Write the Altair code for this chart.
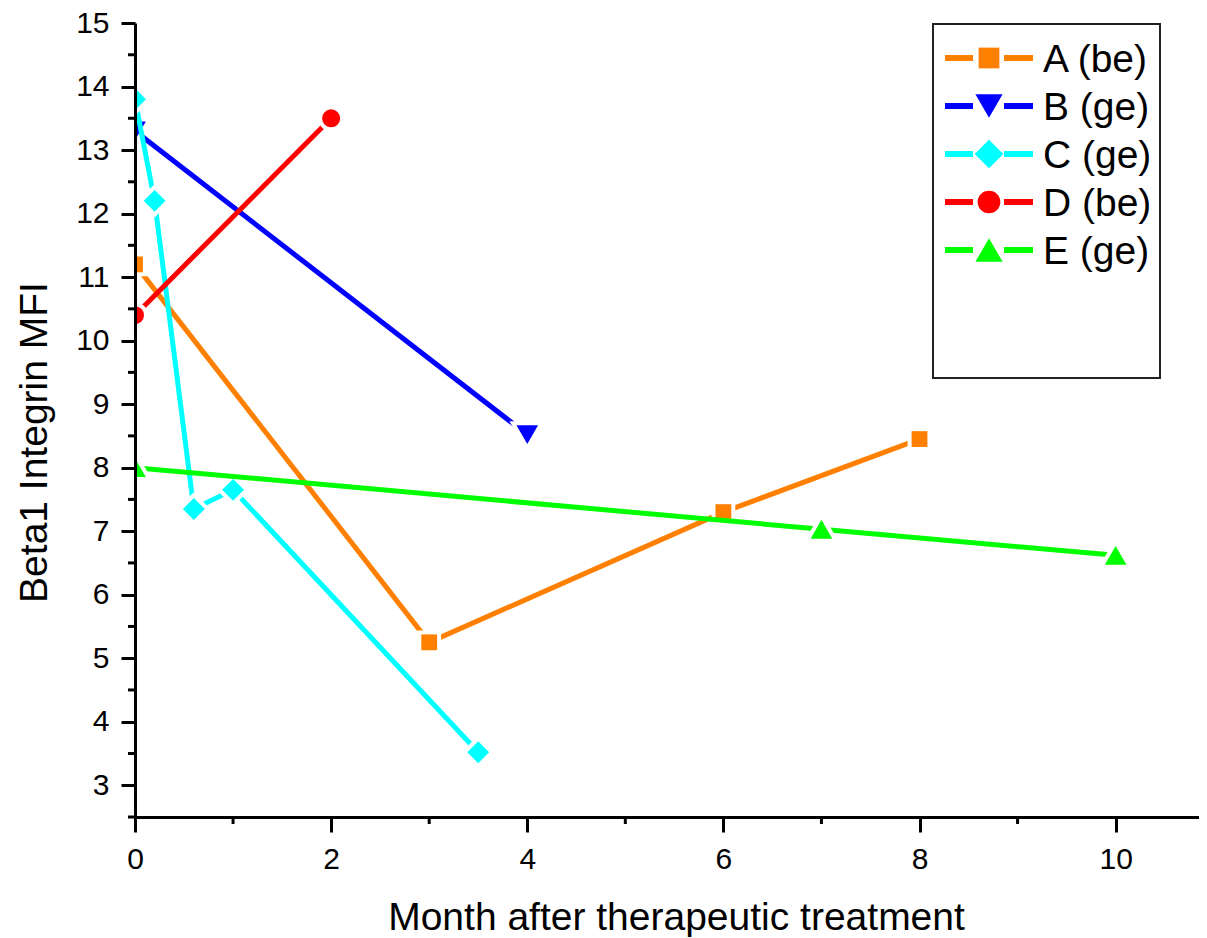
import altair as alt
import pandas as pd

FONT = "Liberation Sans"

# ---- data ----
series = ["A (be)", "B (ge)", "C (ge)", "D (be)", "E (ge)"]
x_A = [0, 3, 6, 8]
y_A = [11.2, 5.25, 7.3, 8.45]
x_B = [0, 4]
y_B = [13.3, 8.52]
x_C = [0, 0.2, 0.6, 1.0, 3.5]
y_C = [13.8, 12.2, 7.35, 7.65, 3.52]
x_D = [0, 2]
y_D = [10.4, 13.5]
x_E = [0, 7, 10]
y_E = [8.0, 7.03, 6.62]

x_major_ticks = [0, 2, 4, 6, 8, 10]
x_minor_ticks = [1, 3, 5, 7, 9]
y_major_ticks = [3, 4, 5, 6, 7, 8, 9, 10, 11, 12, 13, 14, 15]
y_minor_ticks = [2.5, 3.5, 4.5, 5.5, 6.5, 7.5, 8.5, 9.5, 10.5, 11.5, 12.5, 13.5, 14.5]

# ---- styles ----
colors = ["#FF8000", "#0000FF", "#00FFFF", "#FF0000", "#00FF00"]
shapes = ["square", "triangle-down", "diamond", "circle", "triangle-up"]
plot_sizes = [250, 470, 480, 324, 470]
legend_sizes = [430, 740, 820, 515, 740]

xs = [x_A, x_B, x_C, x_D, x_E]
ys = [y_A, y_B, y_C, y_D, y_E]
rows = []
for s, xv, yv in zip(series, xs, ys):
    for a, b in zip(xv, yv):
        rows.append({"series": s, "x": a, "y": b})
df = pd.DataFrame(rows)

W, H = 1064, 794
xscale = alt.Scale(domain=[0, 10.85], nice=False, zero=False)
yscale = alt.Scale(domain=[2.5, 15], nice=False, zero=False)
cscale = alt.Scale(domain=series, range=colors)
shscale = alt.Scale(domain=series, range=shapes)

x_axis = alt.Axis(
    values=x_major_ticks, tickSize=15, tickWidth=3, tickColor="black",
    domainWidth=3, domainColor="black", grid=False, zindex=1,
    labelFont=FONT, labelFontSize=30, labelColor="black", labelPadding=12,
    labelFlush=False,
    title="Month after therapeutic treatment", titleFont=FONT, titleFontSize=39,
    titleFontWeight="normal", titleColor="black", titleX=541, titleY=112,
    titleAlign="center", titleBaseline="alphabetic",
)
y_axis = alt.Axis(
    values=y_major_ticks, tickSize=14, tickWidth=3, tickColor="black",
    domainWidth=3, domainColor="black", grid=False, zindex=1,
    labelFont=FONT, labelFontSize=30, labelColor="black", labelPadding=12,
    labelFlush=False,
    title="Beta1 Integrin MFI", titleFont=FONT, titleFontSize=39,
    titleFontWeight="normal", titleColor="black", titleAngle=270,
    titleX=-89, titleY=419, titleAlign="center", titleBaseline="alphabetic",
)

X = alt.X("x:Q", scale=xscale, axis=x_axis)
Y = alt.Y("y:Q", scale=yscale, axis=y_axis)
C = alt.Color("series:N", scale=cscale, legend=None)
S = alt.Shape("series:N", scale=shscale, legend=None)

base = alt.Chart(df)
layers = []
for i, s in enumerate(series):
    f = alt.datum.series == s
    line = base.transform_filter(f).mark_line(strokeWidth=5, clip=True).encode(
        x=X, y=Y, color=C, order="x:Q",
    )
    halo = base.transform_filter(f).mark_point(
        filled=True, fill="white", stroke="white", strokeWidth=8, opacity=1,
        size=plot_sizes[i], clip=True
    ).encode(x=X, y=Y, shape=S)
    pts = base.transform_filter(f).mark_point(
        filled=True, opacity=1, strokeWidth=0, size=plot_sizes[i], clip=True
    ).encode(x=X, y=Y, color=C, shape=S)
    layers += [line, halo, pts]

# minor ticks
ymin_df = pd.DataFrame({"y": y_minor_ticks})
xmin_df = pd.DataFrame({"x": x_minor_ticks})
ymin = alt.Chart(ymin_df).mark_rule(strokeWidth=3, color="black", clip=False).encode(
    y=Y, x=alt.value(-7), x2=alt.value(0)
)
xmin = alt.Chart(xmin_df).mark_rule(strokeWidth=3, color="black", clip=False).encode(
    x=X, y=alt.value(H), y2=alt.value(H + 7)
)
layers += [ymin, xmin]

# legend
leg_df = pd.DataFrame({"series": series, "i": list(range(len(series)))})
leg = alt.Chart(leg_df).transform_calculate(ly="35 + 48 * datum.i")
LY = alt.Y("ly:Q", scale=None, axis=None)
box = alt.Chart(pd.DataFrame({"a": [0]})).mark_rect(
    fill=None, stroke="#222222", strokeWidth=2
).encode(x=alt.value(798), x2=alt.value(1025), y=alt.value(1), y2=alt.value(355))
seg1 = leg.mark_rule(strokeWidth=6).encode(
    x=alt.value(810), x2=alt.value(838), y=LY, color=C,
)
seg2 = leg.mark_rule(strokeWidth=6).encode(
    x=alt.value(869), x2=alt.value(898), y=LY, color=C,
)
layers += [box, seg1, seg2]
for i, s in enumerate(series):
    lsym = leg.transform_filter(alt.datum.series == s).mark_point(
        filled=True, opacity=1, strokeWidth=0, size=legend_sizes[i]
    ).encode(x=alt.value(854), y=LY, color=C, shape=S)
    layers.append(lsym)
ltxt = leg.mark_text(
    align="left", baseline="middle", dy=2, font=FONT, fontSize=39, color="black"
).encode(x=alt.value(908), y=LY, text="series:N")
layers.append(ltxt)

chart = alt.layer(*layers).properties(
    width=W, height=H,
    autosize=alt.AutoSizeParams(type="none"),
    padding={"left": 127, "top": 15, "right": 0, "bottom": 120},
    background="white",
).configure_view(stroke=None)

chart.save("out.html", embed_options={"renderer": "svg", "actions": False})
